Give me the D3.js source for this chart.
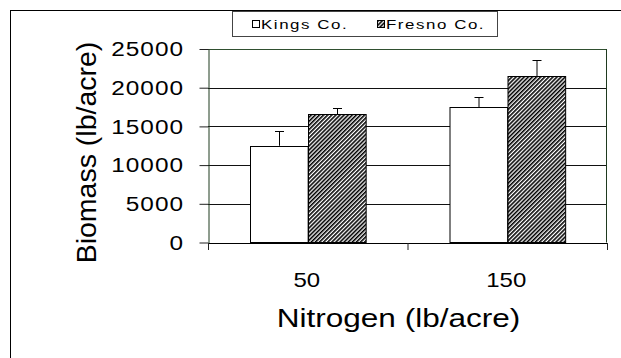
<!DOCTYPE html>
<html>
<head>
<meta charset="utf-8">
<script src="https://cdn.jsdelivr.net/npm/d3@7"></script>
<style>
  body { margin: 0; background: #fff; }
  text { font-family: 'Liberation Sans', Arial, sans-serif; fill: #000; }
</style>
</head>
<body>
<div id="myPlot"></div>
<script>
// data
const categories = ['50', '150'];
const series = ['Kings Co.', 'Fresno Co.'];
const means = [
  [12500, 16600],   // N = 50
  [17500, 21500]    // N = 150
];
const errors = [
  [1900, 800],
  [1300, 2100]
];
const yTicks = [0, 5000, 10000, 15000, 20000, 25000];

const width = 621, height = 358;
const margin = {top: 49, right: 14, bottom: 115.5, left: 208};
const plotW = width - margin.left - margin.right;
const plotH = height - margin.top - margin.bottom;

const svg = d3.select('#myPlot')
  .append('svg')
    .attr('width', width)
    .attr('height', height);

// hatch for Fresno
const defs = svg.append('defs');
const pat = defs.append('pattern')
  .attr('id', 'hatch')
  .attr('patternUnits', 'userSpaceOnUse')
  .attr('width', 2.9)
  .attr('height', 2.9)
  .attr('patternTransform', 'rotate(45)');
pat.append('rect').attr('width', 2.9).attr('height', 2.9).attr('fill', '#fff');
pat.append('line')
  .attr('x1', 0.8).attr('y1', 0).attr('x2', 0.8).attr('y2', 2.9)
  .attr('stroke', '#000').attr('stroke-width', 1.6);

// outer frame (cut by window on right/bottom)
svg.append('rect')
  .attr('x', 10.5).attr('y', 10.5)
  .attr('width', 700).attr('height', 400)
  .attr('fill', 'none').attr('stroke', '#000').attr('stroke-width', 1);

const g = svg.append('g')
  .attr('transform', 'translate(' + margin.left + ',' + margin.top + ')');

const y = d3.scaleLinear().domain([0, 25000]).range([plotH, 0]);
const x = d3.scaleBand().domain(categories).range([0, plotW]).padding(0);
const xs = d3.scaleBand().domain(series).range([0, x.bandwidth()])
  .paddingInner(0).paddingOuter(0.73);

// horizontally stretched text, like the original
function stretched(parent, tx, ty, str, size, sx, anchor) {
  const t = parent.append('g')
    .attr('transform', 'translate(' + tx + ',' + ty + ')scale(' + sx + ',1)')
    .append('text')
      .attr('text-anchor', anchor || 'start')
      .style('font-size', size + 'px')
      .text(str);
  return t;
}

// gridlines
g.selectAll('.grid')
  .data(yTicks.filter(d => d > 0 && d < 25000))
  .enter().append('line')
    .attr('x1', 0).attr('x2', plotW)
    .attr('y1', d => Math.round(y(d)) + 0.5)
    .attr('y2', d => Math.round(y(d)) + 0.5)
    .attr('stroke', '#111').attr('stroke-width', 1);

// top and right frame of plot area
g.append('line')
  .attr('x1', 0).attr('x2', plotW).attr('y1', 0.5).attr('y2', 0.5)
  .attr('stroke', '#2f4f2f');
g.append('line')
  .attr('x1', plotW - 0.5).attr('x2', plotW - 0.5).attr('y1', 0).attr('y2', plotH)
  .attr('stroke', '#1f3a1f');

// bars
const groups = g.selectAll('.grp')
  .data(categories)
  .enter().append('g')
    .attr('transform', d => 'translate(' + x(d) + ',0)');

groups.selectAll('rect')
  .data((d, i) => series.map((s, j) => ({s: s, v: means[i][j], e: errors[i][j]})))
  .enter().append('rect')
    .attr('x', d => Math.round(xs(d.s)) + 0.5)
    .attr('y', d => Math.round(y(d.v)) + 0.5)
    .attr('width', xs.bandwidth())
    .attr('height', d => plotH - Math.round(y(d.v)) - 0.5)
    .attr('fill', (d, j) => j === 1 ? 'url(#hatch)' : '#fff')
    .attr('stroke', '#000').attr('stroke-width', 1);

// error bars (upper only)
const eb = groups.selectAll('.err')
  .data((d, i) => series.map((s, j) => ({s: s, v: means[i][j], e: errors[i][j]})))
  .enter().append('g');
eb.append('line')
  .attr('x1', d => Math.round(xs(d.s) + xs.bandwidth() / 2) + 0.5)
  .attr('x2', d => Math.round(xs(d.s) + xs.bandwidth() / 2) + 0.5)
  .attr('y1', d => y(d.v)).attr('y2', d => Math.round(y(d.v + d.e)) + 0.5)
  .attr('stroke', '#000');
eb.append('line')
  .attr('x1', d => Math.round(xs(d.s) + xs.bandwidth() / 2) - 4)
  .attr('x2', d => Math.round(xs(d.s) + xs.bandwidth() / 2) + 5)
  .attr('y1', d => Math.round(y(d.v + d.e)) + 0.5)
  .attr('y2', d => Math.round(y(d.v + d.e)) + 0.5)
  .attr('stroke', '#000');

// Y axis
const yAxis = g.append('g')
  .attr('transform', 'translate(0.5,0)')
  .call(d3.axisLeft(y).tickValues(yTicks).tickSize(9).tickSizeOuter(0).tickFormat(''));
yAxis.select('.domain').attr('stroke', '#1f3a1f');
yAxis.selectAll('.tick line').attr('stroke', '#222');
yTicks.forEach(v => {
  stretched(g, -24, y(v) + 7.3, d3.format('d')(v), 19.5, 1.25, 'end')
    .style('letter-spacing', '0.8px');
});

// X axis: ticks on group boundaries
const xb = d3.scaleLinear().domain([0, categories.length]).range([0, plotW]);
const xAxis = g.append('g')
  .attr('transform', 'translate(0,' + (plotH + 0.5) + ')')
  .call(d3.axisBottom(xb).tickValues(d3.range(categories.length + 1)).tickSize(7).tickSizeOuter(0).tickFormat(''));
xAxis.select('.domain').attr('stroke', '#000');
xAxis.selectAll('.tick line').attr('stroke', '#222');

categories.forEach(c => {
  stretched(g, x(c) + x.bandwidth() / 2 - 1, plotH + 44.5, c, 20, 1.2, 'middle');
});

// axis titles
stretched(svg, 398.5, 327, 'Nitrogen (lb/acre)', 26.5, 1.19, 'middle');

svg.append('text')
  .attr('transform', 'translate(96,152.5)rotate(-90)')
  .attr('text-anchor', 'middle')
  .style('font-size', '28.5px')
  .text('Biomass (lb/acre)');

// legend
const legend = svg.append('g');
legend.append('rect')
  .attr('x', 232.5).attr('y', 11.5)
  .attr('width', 265).attr('height', 25)
  .attr('fill', '#fff').attr('stroke', '#444');
const legX = [252, 377];
series.forEach((s, i) => {
  legend.append('rect')
    .attr('x', legX[i] + 0.5).attr('y', 20.5)
    .attr('width', 7).attr('height', 7)
    .attr('fill', i === 1 ? 'url(#hatch)' : '#fff')
    .attr('stroke', '#000');
  stretched(legend, legX[i] + 9, 29.3, s, 13, 1.3).style('letter-spacing', '1.2px');
});
</script>
</body>
</html>
